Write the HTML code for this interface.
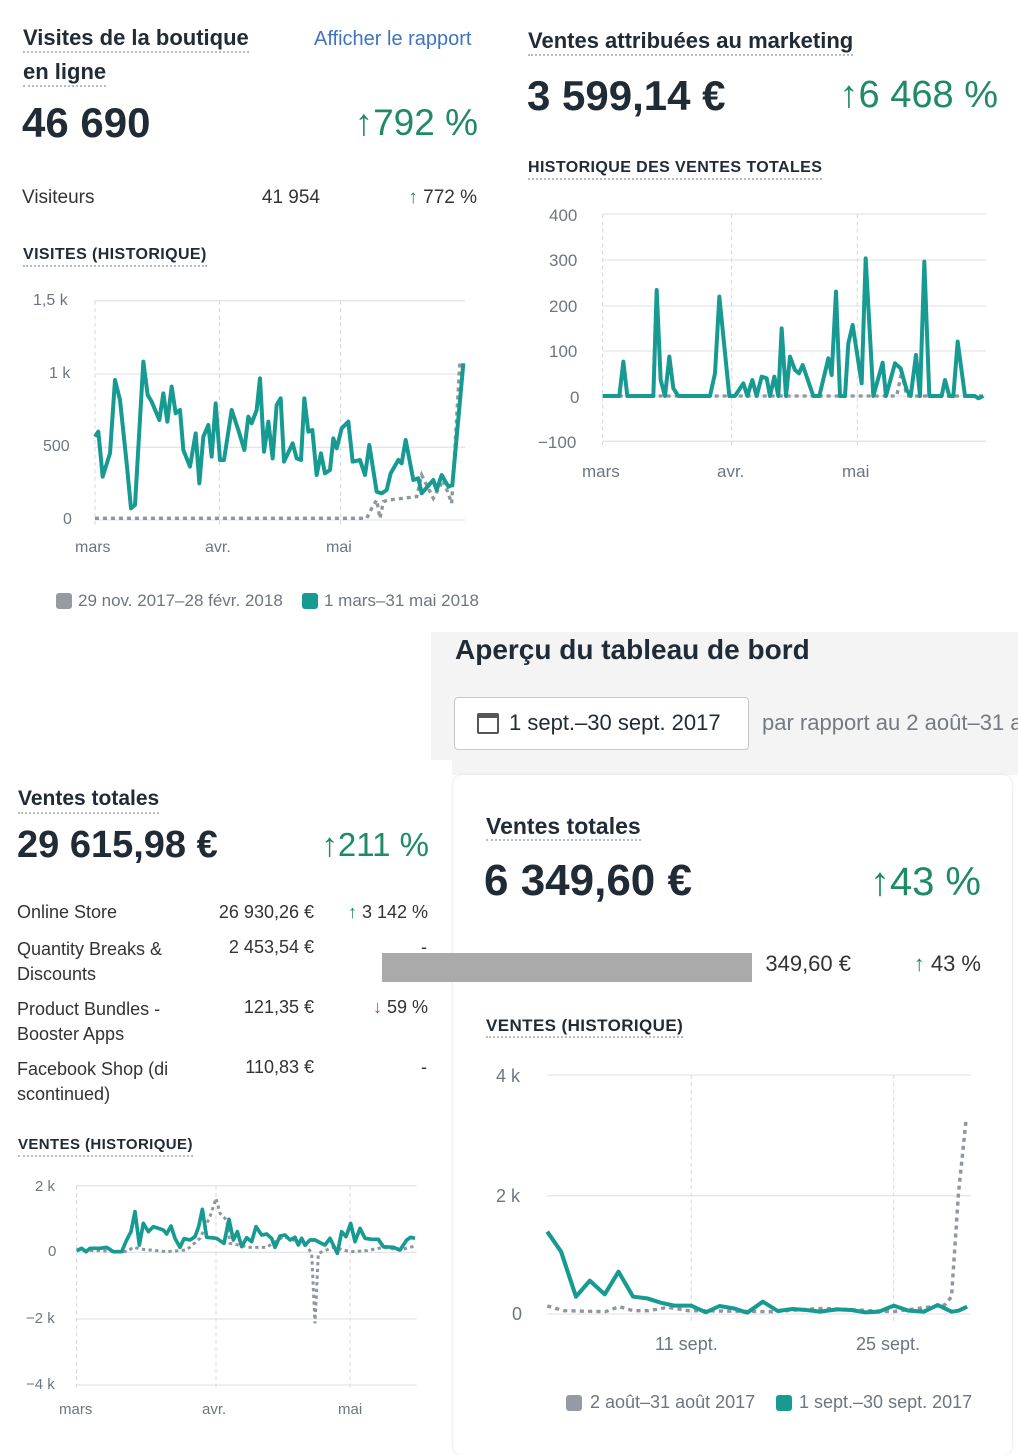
<!DOCTYPE html>
<html><head><meta charset="utf-8"><style>
body{margin:0;width:1018px;height:1440px;position:relative;background:#fff;font-family:"Liberation Sans",sans-serif;color:#212b36;overflow:hidden}
.a{position:absolute;white-space:nowrap}
.r{position:absolute;white-space:nowrap;text-align:right}
.h{font-size:22px;font-weight:600;color:#212b36;border-bottom:2px dotted #b5bcc4;line-height:26px}
.sh{font-size:16px;font-weight:700;letter-spacing:.4px;border-bottom:2px dotted #b5bcc4;line-height:20px}
.big{font-size:41px;font-weight:600}
.g{color:#1f8a63}
.t{font-size:19px;color:#333}
.ax{font-size:16px;color:#6d7680}
svg{position:absolute}
</style></head><body>
<div style="position:absolute;left:431px;top:632px;width:587px;height:128px;background:#f4f4f4"></div>
<div style="position:absolute;left:452px;top:760px;width:566px;height:15px;background:#f4f4f4"></div>
<div style="position:absolute;left:453px;top:775px;width:559px;height:680px;background:#fff;border-radius:10px;box-shadow:0 0 3px #ddd"></div>

<!-- panel 1 -->
<div class="a h" style="left:23px;top:25px">Visites de la boutique</div>
<div class="a h" style="left:23px;top:59px">en ligne</div>
<div class="a" style="left:314px;top:28px;font-size:20px;color:#3f73c2">Afficher le rapport</div>
<div class="a big" style="left:22px;top:99px;font-size:42px">46 690</div>
<div class="r g" style="right:540px;top:102px;font-size:37px">↑792 %</div>
<div class="a t" style="left:22px;top:187px">Visiteurs</div>
<div class="r t" style="right:698px;top:187px">41 954</div>
<div class="r t" style="right:541px;top:187px"><span class="g">↑</span> 772 %</div>
<div class="a sh" style="left:23px;top:245px">VISITES (HISTORIQUE)</div>
<div class="a ax" style="left:33px;top:292px">1,5 k</div>
<div class="a ax" style="left:49px;top:365px">1 k</div>
<div class="a ax" style="left:43px;top:438px">500</div>
<div class="a ax" style="left:63px;top:511px">0</div>
<div class="a ax" style="left:75px;top:539px">mars</div>
<div class="a ax" style="left:205px;top:539px">avr.</div>
<div class="a ax" style="left:326px;top:539px">mai</div>
<svg style="left:0;top:280px" width="500" height="260" viewBox="0 0 1500 780">
<g stroke="#e3e5e8" stroke-width="4"><line x1="285" y1="62" x2="1395" y2="62"/><line x1="285" y1="282" x2="1395" y2="282"/><line x1="285" y1="502" x2="1395" y2="502"/><line x1="285" y1="720" x2="1395" y2="720"/></g>
<g stroke="#d6d9dc" stroke-width="3" stroke-dasharray="12 10"><line x1="285" y1="62" x2="285" y2="740"/><line x1="658" y1="62" x2="658" y2="740"/><line x1="1022" y1="62" x2="1022" y2="740"/></g>
<polyline fill="none" stroke="#8f969e" stroke-width="10" stroke-dasharray="12 12" points="285,715 1100,715 1115,685 1130,660 1140,715 1150,665 1165,660 1250,650 1265,585 1300,655 1330,600 1355,670 1380,240"/>
<polyline fill="none" stroke="#169a92" stroke-width="12" stroke-linejoin="round" points="285,470 295,455 308,590 330,520 345,300 360,360 380,550 393,685 405,675 430,245 443,345 455,365 478,420 490,340 502,425 515,320 527,400 540,390 550,510 570,560 587,460 598,610 610,470 625,435 635,530 647,370 660,540 672,540 695,390 715,450 733,510 745,410 755,430 770,390 780,295 792,515 805,425 818,535 830,375 842,355 852,545 878,490 890,535 903,540 913,355 925,455 937,450 950,585 963,520 975,580 990,570 1000,475 1010,505 1025,445 1045,425 1058,545 1080,540 1095,585 1108,495 1130,635 1145,640 1160,630 1172,580 1195,540 1205,550 1217,480 1240,600 1255,595 1265,640 1300,600 1310,630 1325,585 1345,620 1357,615 1390,250"/>
</svg>
<div class="a" style="left:56px;top:593px;width:16px;height:16px;background:#959ba3;border-radius:3px"></div>
<div class="a ax" style="left:78px;top:591px;font-size:17px">29 nov. 2017–28 févr. 2018</div>
<div class="a" style="left:302px;top:593px;width:16px;height:16px;background:#169a92;border-radius:3px"></div>
<div class="a ax" style="left:324px;top:591px;font-size:17px">1 mars–31 mai 2018</div>

<!-- panel 2 -->
<div class="a h" style="left:528px;top:28px">Ventes attribuées au marketing</div>
<div class="a big" style="left:527px;top:72px;font-size:42px">3 599,14 €</div>
<div class="r g" style="right:20px;top:74px;font-size:38px">↑6 468 %</div>
<div class="a sh" style="left:528px;top:158px">HISTORIQUE DES VENTES TOTALES</div>
<div class="a ax" style="left:549px;top:206px;font-size:17px">400</div>
<div class="a ax" style="left:549px;top:251px;font-size:17px">300</div>
<div class="a ax" style="left:549px;top:297px;font-size:17px">200</div>
<div class="a ax" style="left:549px;top:342px;font-size:17px">100</div>
<div class="a ax" style="left:570px;top:388px;font-size:17px">0</div>
<div class="a ax" style="left:538px;top:433px;font-size:17px">−100</div>
<div class="a ax" style="left:582px;top:462px;font-size:17px">mars</div>
<div class="a ax" style="left:717px;top:462px;font-size:17px">avr.</div>
<div class="a ax" style="left:842px;top:462px;font-size:17px">mai</div>
<svg style="left:530px;top:200px" width="470" height="260" viewBox="0 0 1410 780">
<g stroke="#e3e5e8" stroke-width="4"><line x1="218" y1="42" x2="1368" y2="42"/><line x1="218" y1="180" x2="1368" y2="180"/><line x1="218" y1="318" x2="1368" y2="318"/><line x1="218" y1="453" x2="1368" y2="453"/><line x1="218" y1="588" x2="1368" y2="588"/><line x1="218" y1="724" x2="1368" y2="724"/></g>
<g stroke="#d6d9dc" stroke-width="3" stroke-dasharray="12 10"><line x1="218" y1="42" x2="218" y2="745"/><line x1="605" y1="42" x2="605" y2="745"/><line x1="982" y1="42" x2="982" y2="745"/></g>
<polyline fill="none" stroke="#8f969e" stroke-width="10" stroke-dasharray="12 12" points="218,588 1100,588 1115,515 1130,588 1360,588"/>
<polyline fill="none" stroke="#169a92" stroke-width="12" stroke-linejoin="round" points="218,588 268,588 280,485 292,588 370,588 380,270 392,540 405,588 418,470 430,565 445,588 540,588 555,520 568,290 598,588 615,588 640,550 652,588 667,540 680,588 695,530 710,535 720,588 733,530 745,588 755,385 768,588 780,470 795,510 807,520 818,495 850,588 868,588 895,475 905,525 918,275 930,588 945,588 955,430 968,375 995,550 1007,175 1030,588 1058,488 1068,588 1095,490 1112,505 1130,570 1142,588 1158,465 1170,588 1183,185 1198,588 1235,588 1245,540 1258,588 1270,588 1283,425 1305,588 1335,588 1345,595 1360,588"/>
</svg>

<!-- header -->
<div class="a" style="left:455px;top:634px;font-size:28px;font-weight:600">Aperçu du tableau de bord</div>
<div class="a" style="left:454px;top:697px;width:293px;height:51px;background:#fff;border:1px solid #c4c8cc;border-radius:4px"></div>
<div class="a" style="left:477px;top:713px;width:22px;height:21px;border:2.5px solid #555;border-top-width:5px;border-radius:2px;box-sizing:border-box"></div>
<div class="a" style="left:509px;top:710px;font-size:22px;font-weight:500">1 sept.–30 sept. 2017</div>
<div class="a" style="left:762px;top:710px;font-size:22px;color:#737a82">par rapport au 2 août–31 a</div>

<!-- panel 3 -->
<div class="a h" style="left:18px;top:786px;font-size:21px">Ventes totales</div>
<div class="a big" style="left:17px;top:824px;font-size:38px">29 615,98 €</div>
<div class="r g" style="right:589px;top:826px;font-size:33px">↑211 %</div>
<div class="a t" style="left:17px;top:902px;font-size:18px">Online Store</div>
<div class="r t" style="right:704px;top:902px;font-size:18px">26 930,26 €</div>
<div class="r t" style="right:590px;top:902px;font-size:18px"><span class="g">↑</span> 3 142 %</div>
<div class="a t" style="left:17px;top:937px;font-size:18px;line-height:25px">Quantity Breaks &amp;<br>Discounts</div>
<div class="r t" style="right:704px;top:937px;font-size:18px">2 453,54 €</div>
<div class="r t" style="right:591px;top:937px;font-size:18px">-</div>
<div class="a t" style="left:17px;top:997px;font-size:18px;line-height:25px">Product Bundles -<br>Booster Apps</div>
<div class="r t" style="right:704px;top:997px;font-size:18px">121,35 €</div>
<div class="r t" style="right:590px;top:997px;font-size:18px"><span style="color:#c0452a">↓</span> 59 %</div>
<div class="a t" style="left:17px;top:1057px;font-size:18px;line-height:25px">Facebook Shop (di<br>scontinued)</div>
<div class="r t" style="right:704px;top:1057px;font-size:18px">110,83 €</div>
<div class="r t" style="right:591px;top:1057px;font-size:18px">-</div>
<div class="a sh" style="left:18px;top:1135px;font-size:15px">VENTES (HISTORIQUE)</div>
<div class="a ax" style="left:35px;top:1178px;font-size:15px">2 k</div>
<div class="a ax" style="left:48px;top:1243px;font-size:15px">0</div>
<div class="a ax" style="left:26px;top:1310px;font-size:15px">−2 k</div>
<div class="a ax" style="left:26px;top:1376px;font-size:15px">−4 k</div>
<div class="a ax" style="left:59px;top:1401px;font-size:15px">mars</div>
<div class="a ax" style="left:202px;top:1401px;font-size:15px">avr.</div>
<div class="a ax" style="left:338px;top:1401px;font-size:15px">mai</div>
<svg style="left:0;top:1160px" width="430" height="250" viewBox="0 0 1290 750">
<g stroke="#e3e5e8" stroke-width="4"><line x1="230" y1="77" x2="1250" y2="77"/><line x1="230" y1="277" x2="1250" y2="277"/><line x1="230" y1="477" x2="1250" y2="477"/><line x1="230" y1="675" x2="1250" y2="675"/></g>
<g stroke="#d6d9dc" stroke-width="3" stroke-dasharray="12 10"><line x1="230" y1="77" x2="230" y2="690"/><line x1="648" y1="77" x2="648" y2="690"/><line x1="1050" y1="77" x2="1050" y2="690"/></g>
<polyline fill="none" stroke="#8f969e" stroke-width="9" stroke-dasharray="10 10" points="230,270 380,275 400,262 430,268 500,275 560,270 600,235 630,170 648,115 660,160 680,180 690,250 750,262 800,262 850,230 880,240 920,258 935,280 945,490 955,280 1000,262 1050,275 1100,272 1150,262 1200,270 1245,258"/>
<polyline fill="none" stroke="#169a92" stroke-width="11" stroke-linejoin="round" points="230,272 245,265 258,275 270,265 300,265 320,262 340,275 365,275 380,240 393,215 405,155 418,255 430,190 445,215 460,200 490,210 500,222 513,198 525,235 540,262 552,236 570,240 585,230 596,200 607,148 620,232 650,235 672,250 687,178 700,240 712,215 725,260 740,233 755,245 768,200 785,225 800,222 815,235 825,262 840,228 855,225 870,240 885,232 895,255 905,235 915,255 930,240 945,240 960,248 975,255 990,235 1012,280 1025,215 1038,230 1052,190 1065,245 1080,205 1095,235 1115,238 1135,238 1150,260 1180,262 1200,270 1220,240 1232,232 1245,235"/>
</svg>

<!-- panel 4 -->
<div class="a h" style="left:486px;top:813px;font-size:23px">Ventes totales</div>
<div class="a" style="left:484px;top:856px;font-size:44px;font-weight:600">6 349,60 €</div>
<div class="r g" style="right:37px;top:860px;font-size:40px">↑43 %</div>
<div class="r t" style="right:167px;top:951px;font-size:22px">349,60 €</div>
<div class="r t" style="right:37px;top:951px;font-size:22px"><span class="g">↑</span> 43 %</div>
<div class="a" style="left:382px;top:953px;width:370px;height:29px;background:#aaaaaa"></div>
<div class="a sh" style="left:486px;top:1016px;font-size:17px">VENTES (HISTORIQUE)</div>
<div class="a ax" style="left:496px;top:1066px;font-size:18px">4 k</div>
<div class="a ax" style="left:496px;top:1186px;font-size:18px">2 k</div>
<div class="a ax" style="left:512px;top:1304px;font-size:18px">0</div>
<div class="a ax" style="left:655px;top:1334px;font-size:18px">11 sept.</div>
<div class="a ax" style="left:856px;top:1334px;font-size:18px">25 sept.</div>
<svg style="left:460px;top:1060px" width="540" height="280" viewBox="0 0 1560 840" preserveAspectRatio="none">
<g stroke="#e3e5e8" stroke-width="4"><line x1="252" y1="45" x2="1475" y2="45"/><line x1="252" y1="407" x2="1475" y2="407"/><line x1="252" y1="762" x2="1475" y2="762"/></g>
<g stroke="#d6d9dc" stroke-width="3" stroke-dasharray="12 10"><line x1="668" y1="45" x2="668" y2="790"/><line x1="1253" y1="45" x2="1253" y2="790"/></g>
<polyline fill="none" stroke="#8f969e" stroke-width="10" stroke-dasharray="12 12" points="252,738 300,752 420,755 460,740 500,752 545,752 600,742 660,752 900,755 1050,745 1250,755 1400,735 1420,710 1440,400 1462,180"/>
<polyline fill="none" stroke="#169a92" stroke-width="12" stroke-linejoin="round" points="252,515 292,575 335,710 375,662 418,703 458,635 500,710 540,715 580,728 620,737 668,737 710,757 750,738 790,745 830,758 875,725 918,753 960,747 1000,750 1040,755 1090,748 1130,750 1170,757 1210,755 1253,737 1295,752 1340,755 1380,735 1420,755 1440,752 1465,740"/>
</svg>
<div class="a" style="left:566px;top:1395px;width:16px;height:16px;background:#959ba3;border-radius:3px"></div>
<div class="a ax" style="left:590px;top:1392px;font-size:18px">2 août–31 août 2017</div>
<div class="a" style="left:776px;top:1395px;width:16px;height:16px;background:#169a92;border-radius:3px"></div>
<div class="a ax" style="left:799px;top:1392px;font-size:18px">1 sept.–30 sept. 2017</div>
</body></html>
